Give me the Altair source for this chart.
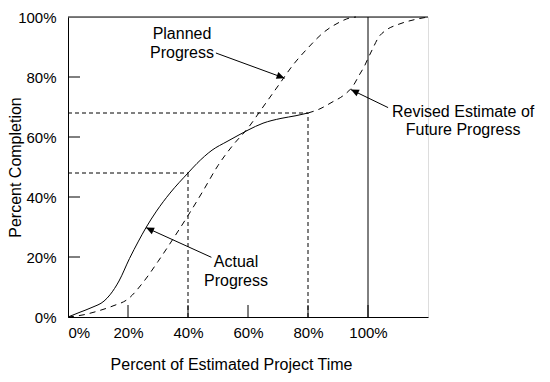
import math
import altair as alt
import pandas as pd

FONT = "Liberation Sans"

# Curves (x = % of estimated project time, y = % completion)
actual_x = [0, 4, 8, 12, 14, 17, 20.5, 23.5, 26, 29.5, 34, 40, 43, 48, 53, 57, 60, 65, 71, 76, 80]
actual_y = [0, 1.6, 3.2, 5.3, 7.4, 12, 19.5, 25.3, 29.8, 35.3, 41.3, 48, 51.2, 55.6, 58.5, 60.7, 62.3, 64.6, 66.2, 67.1, 68]

planned_x = [0, 5, 10, 15, 20, 25, 30, 35, 40, 45, 50, 55, 60, 65, 70, 75, 80, 85, 90, 94, 96]
planned_y = [0, 0.7, 2, 3.7, 6, 11.5, 18.5, 26, 33.8, 42, 50.5, 57.3, 63, 70, 77, 84, 89.7, 94.7, 98, 99.7, 100]

revised_x = [80, 84, 88, 92, 95, 97, 99, 100, 101.5, 103.5, 106, 110, 115, 120]
revised_y = [68, 69.4, 71.6, 74, 77, 80.5, 84, 86.2, 89.3, 93.2, 95.6, 97.5, 99, 100]

# Reference (dashed) lines
ref_x = [0, 40, 0, 80]
ref_y = [48, 0, 68, 0]
ref_x2 = [40, 40, 80, 80]
ref_y2 = [48, 48, 68, 68]

# Frame lines: top border and 100% time line
frame_x = [0, 100]
frame_y = [100, 0]
frame_x2 = [120, 100]
frame_y2 = [100, 100]

tick_values = [0, 20, 40, 60, 80, 100]
inner_x_ticks = [20, 40, 60, 80, 100]
inner_y_ticks = [20, 40, 60, 80]
tick_len = 4

# Annotations
ann_text = ["Planned", "Progress", "Actual", "Progress", "Revised Estimate of", "Future Progress"]
ann_x = [38, 38, 56, 56, 131.7, 131.7]
ann_y = [92.6, 86.2, 16.8, 10.3, 66.8, 60.8]

# Arrows: start (near label) -> tip (on curve)
arr_x = [49.3, 47.8, 106.7]
arr_y = [88.0, 19.9, 69.8]
arr_x2 = [72.2, 26.0, 94.3]
arr_y2 = [79.6, 29.8, 75.8]

actual = pd.DataFrame({"x": actual_x, "y": actual_y})
planned = pd.DataFrame({"x": planned_x, "y": planned_y})
revised = pd.DataFrame({"x": revised_x, "y": revised_y})
refs = pd.DataFrame({"x": ref_x, "y": ref_y, "x2": ref_x2, "y2": ref_y2})
frame = pd.DataFrame({"x": frame_x, "y": frame_y, "x2": frame_x2, "y2": frame_y2})
ticks = pd.DataFrame(
    {"x": inner_x_ticks + [0] * len(inner_y_ticks),
     "y": [0] * len(inner_x_ticks) + inner_y_ticks,
     "x2": inner_x_ticks + [tick_len] * len(inner_y_ticks),
     "y2": [tick_len] * len(inner_x_ticks) + inner_y_ticks}
)
ann = pd.DataFrame({"x": ann_x, "y": ann_y, "t": ann_text})
arrows = pd.DataFrame({"x": arr_x, "y": arr_y, "x2": arr_x2, "y2": arr_y2})
heads = pd.DataFrame({
    "x": arr_x2,
    "y": arr_y2,
    "angle": [(math.degrees(math.atan2(x2 - x1, y2 - y1)) + 360) % 360
              for x1, y1, x2, y2 in zip(arr_x, arr_y, arr_x2, arr_y2)],
})

xaxis = alt.Axis(
    values=tick_values, labelExpr="datum.value + '%'", ticks=False, grid=False,
    domainColor="black", domainWidth=1, labelFont=FONT, labelFontSize=15,
    labelColor="black", labelPadding=8, labelFlush=True,
    title="Percent of Estimated Project Time", titleFont=FONT, titleFontSize=16,
    titleFontWeight="normal", titleColor="black", titleX=163, titleY=52,
    titleBaseline="alphabetic", titleAlign="center",
)
yaxis = alt.Axis(
    values=tick_values, labelExpr="datum.value + '%'", ticks=False, grid=False,
    domainColor="black", domainWidth=1, labelFont=FONT, labelFontSize=15,
    labelColor="black", labelPadding=12,
    title="Percent Completion", titleFont=FONT, titleFontSize=16,
    titleFontWeight="normal", titleColor="black", titleX=-53, titleY=150,
    titleAngle=270, titleAlign="center", titleBaseline="middle",
)
X = alt.X("x:Q", scale=alt.Scale(domain=[0, 120], nice=False, zero=False), axis=xaxis)
Y = alt.Y("y:Q", scale=alt.Scale(domain=[0, 100], nice=False, zero=False), axis=yaxis)

actual_line = alt.Chart(actual).mark_line(color="black", strokeWidth=1, interpolate="monotone").encode(x=X, y=Y)
planned_line = alt.Chart(planned).mark_line(color="black", strokeWidth=1, strokeDash=[6, 5], interpolate="monotone").encode(x=X, y=Y)
revised_line = alt.Chart(revised).mark_line(color="black", strokeWidth=1, strokeDash=[6, 5], interpolate="monotone").encode(x=X, y=Y)
ref_lines = alt.Chart(refs).mark_rule(color="black", strokeWidth=1, strokeDash=[4, 3]).encode(x=X, y=Y, x2="x2:Q", y2="y2:Q")
frame_lines = alt.Chart(frame).mark_rule(color="black", strokeWidth=1).encode(x=X, y=Y, x2="x2:Q", y2="y2:Q")
tick_lines = alt.Chart(ticks).mark_rule(color="black", strokeWidth=1).encode(x=X, y=Y, x2="x2:Q", y2="y2:Q")
arrow_lines = alt.Chart(arrows).mark_rule(color="black", strokeWidth=1).encode(x=X, y=Y, x2="x2:Q", y2="y2:Q")
arrow_heads = alt.Chart(heads).mark_point(
    shape="M0,0L-0.45,1L0.45,1Z", size=256, filled=True, color="black", opacity=1, strokeWidth=0
).encode(x=X, y=Y, angle=alt.Angle("angle:Q", scale=None))
labels = alt.Chart(ann).mark_text(
    font=FONT, fontSize=16, color="black", align="center", baseline="alphabetic"
).encode(x=X, y=Y, text="t:N")

chart = alt.layer(
    ref_lines, frame_lines, tick_lines, planned_line, revised_line, actual_line,
    arrow_lines, arrow_heads, labels,
).properties(
    width=360, height=300,
    autosize=alt.AutoSizeParams(type="none"),
    padding={"left": 60, "top": 9, "right": 114, "bottom": 56},
).configure_view(stroke=None).configure(background="white")

chart.save("out.html", embed_options={"renderer": "svg", "actions": False})
